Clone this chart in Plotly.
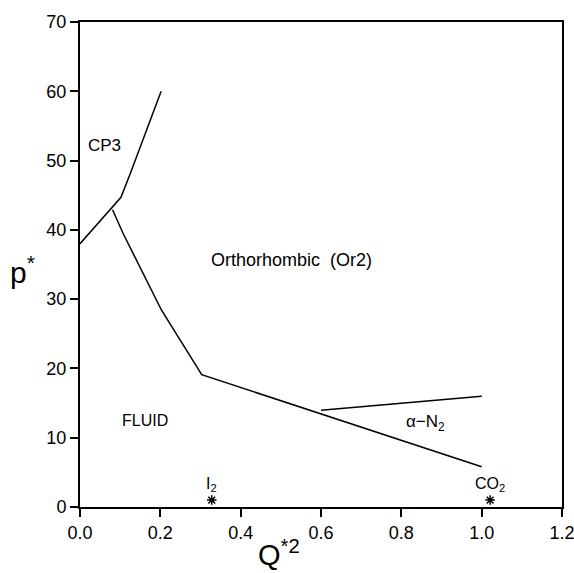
import plotly.graph_objects as go

# Phase boundary data (Q*^2, p*)
cp3_x = [0.0, 0.102, 0.125, 0.202]
cp3_y = [38.0, 44.7, 48.1, 60.0]

fluid_x = [0.081, 0.108, 0.203, 0.303, 1.0]
fluid_y = [42.9, 39.4, 28.4, 19.1, 5.8]

an2_x = [0.600, 1.0]
an2_y = [13.95, 16.0]

star_x = [0.328, 1.021]
star_y = [1.0, 1.0]

labels = ["CP3", "Orthorhombic\u00a0\u00a0(Or2)", "FLUID", "\u03b1\u2212N<sub>2</sub>", "I<sub>2</sub>", "CO<sub>2</sub>"]
label_x = [0.062, 0.527, 0.162, 0.86, 0.327, 1.02]
label_y = [52.2, 35.6, 12.5, 12.1, 3.3, 3.3]
label_size = [17, 18, 16, 17, 16, 16]

x_ticks = [0.0, 0.2, 0.4, 0.6, 0.8, 1.0, 1.2]
y_ticks = [0, 10, 20, 30, 40, 50, 60, 70]

FONT = "Liberation Sans, Arial, sans-serif"

fig = go.Figure()
line_style = dict(color="black", width=1.5)
fig.add_trace(go.Scatter(x=cp3_x, y=cp3_y, mode="lines", line=line_style, showlegend=False))
fig.add_trace(go.Scatter(x=fluid_x, y=fluid_y, mode="lines", line=line_style, showlegend=False))
fig.add_trace(go.Scatter(x=an2_x, y=an2_y, mode="lines", line=line_style, showlegend=False))
fig.add_trace(go.Scatter(x=star_x, y=star_y, mode="markers",
                         marker=dict(symbol="asterisk-open", size=8, color="black",
                                     line=dict(color="black", width=1.5)),
                         showlegend=False))

for t, lx, ly, ls in zip(labels, label_x, label_y, label_size):
    fig.add_annotation(x=lx, y=ly, text=t, showarrow=False,
                       font=dict(family=FONT, size=ls, color="black"))

# axis titles (upright, as in reference)
fig.add_annotation(xref="paper", yref="paper", x=-0.149, y=0.489, xanchor="left", yanchor="middle",
                   text="p<sup>*</sup>", showarrow=False, font=dict(family=FONT, size=30, color="black"))
fig.add_annotation(xref="paper", yref="paper", x=0.365, y=-0.094, xanchor="left", yanchor="middle",
                   text="Q<sup>*2</sup>", showarrow=False, font=dict(family=FONT, size=29, color="black"))

fig.update_layout(
    width=574, height=573,
    margin=dict(l=80, r=12, t=22, b=66),
    paper_bgcolor="white", plot_bgcolor="white",
    font=dict(family=FONT, color="black"),
    showlegend=False,
)
fig.update_xaxes(range=[0, 1.2], tickvals=x_ticks, ticktext=[f"{v:.1f}" for v in x_ticks],
                 ticks="outside", ticklen=8, tickwidth=1.5, tickcolor="black",
                 showline=True, linecolor="black", linewidth=2, mirror=True,
                 showgrid=False, zeroline=False, automargin=False, ticklabeloverflow="allow",
                 tickfont=dict(family=FONT, size=18, color="black"))
fig.update_yaxes(range=[0, 70], tickvals=y_ticks,
                 ticks="outside", ticklen=8, tickwidth=1.5, tickcolor="black",
                 showline=True, linecolor="black", linewidth=2, mirror=True,
                 showgrid=False, zeroline=False, automargin=False, ticklabeloverflow="allow",
                 tickfont=dict(family=FONT, size=18, color="black"))

fig.write_html("out.html")
